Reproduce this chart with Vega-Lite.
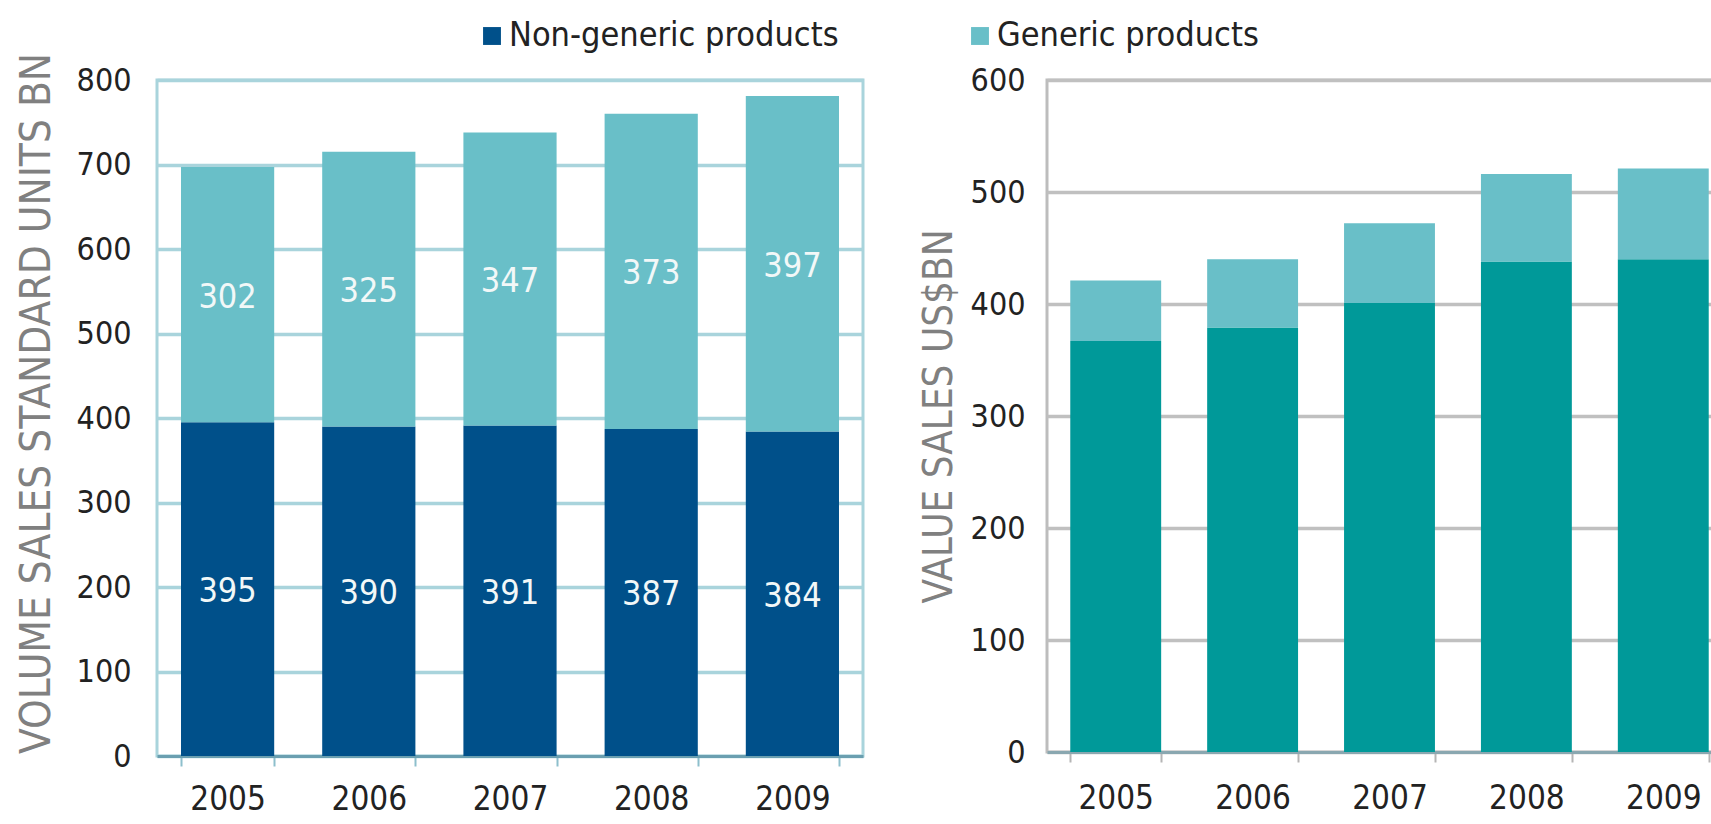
{
  "$schema": "https://vega.github.io/schema/vega-lite/v6.json",
  "background": "white",
  "padding": {"left": 13, "top": 19, "right": -21, "bottom": 0},
  "spacing": 52,
  "datasets": {
    "volume": [
      {"year": "2005", "product": "Non-generic products", "layer": 1, "units": 395},
      {"year": "2006", "product": "Non-generic products", "layer": 1, "units": 390},
      {"year": "2007", "product": "Non-generic products", "layer": 1, "units": 391},
      {"year": "2008", "product": "Non-generic products", "layer": 1, "units": 387},
      {"year": "2009", "product": "Non-generic products", "layer": 1, "units": 384},
      {"year": "2005", "product": "Generic products", "layer": 2, "units": 302},
      {"year": "2006", "product": "Generic products", "layer": 2, "units": 325},
      {"year": "2007", "product": "Generic products", "layer": 2, "units": 347},
      {"year": "2008", "product": "Generic products", "layer": 2, "units": 373},
      {"year": "2009", "product": "Generic products", "layer": 2, "units": 397}
    ],
    "value": [
      {"year": "2005", "product": "Non-generic products", "layer": 1, "usd": 367},
      {"year": "2006", "product": "Non-generic products", "layer": 1, "usd": 379},
      {"year": "2007", "product": "Non-generic products", "layer": 1, "usd": 401},
      {"year": "2008", "product": "Non-generic products", "layer": 1, "usd": 438},
      {"year": "2009", "product": "Non-generic products", "layer": 1, "usd": 440},
      {"year": "2005", "product": "Generic products", "layer": 2, "usd": 54},
      {"year": "2006", "product": "Generic products", "layer": 2, "usd": 61},
      {"year": "2007", "product": "Generic products", "layer": 2, "usd": 71},
      {"year": "2008", "product": "Generic products", "layer": 2, "usd": 78},
      {"year": "2009", "product": "Generic products", "layer": 2, "usd": 81}
    ]
  },
  "config": {
    "font": "DejaVu Sans Condensed, DejaVu Sans",
    "axis": {
      "labelFont": "DejaVu Sans Condensed, DejaVu Sans",
      "titleFont": "DejaVu Sans Condensed, DejaVu Sans",
      "labelColor": "#222222",
      "titleColor": "#808080",
      "titleFontWeight": "normal",
      "labelFontSize": 32,
      "titleFontSize": 40
    },
    "legend": {
      "labelFont": "DejaVu Sans Condensed, DejaVu Sans",
      "labelColor": "#222222"
    }
  },
  "hconcat": [
    {
      "width": 706,
      "height": 676,
      "view": {"stroke": "#a9d4dc", "strokeWidth": 3},
      "data": {"name": "volume"},
      "encoding": {
        "x": {
          "field": "year",
          "type": "nominal",
          "scale": {"paddingInner": 0.34, "paddingOuter": 0.17},
          "axis": {
            "title": null,
            "labelAngle": 0,
            "labelFontSize": 33,
            "domainColor": "#6a9fb0",
            "domainWidth": 3,
            "tickColor": "#8dbfcc",
            "tickWidth": 2,
            "tickSize": 10,
            "tickBand": "extent",
            "labelPadding": 17
          }
        },
        "order": {"field": "layer", "type": "quantitative"}
      },
      "layer": [
        {
          "mark": {"type": "bar"},
          "encoding": {
            "y": {
              "field": "units",
              "type": "quantitative",
              "stack": "zero",
              "scale": {"domain": [0, 800], "nice": false},
              "axis": {
                "title": "VOLUME SALES STANDARD UNITS BN",
                "titleFontSize": 42,
                "values": [0, 100, 200, 300, 400, 500, 600, 700, 800],
                "grid": true,
                "gridColor": "#a9d4dc",
                "gridWidth": 3.5,
                "domain": false,
                "ticks": false,
                "tickSize": 0,
                "labelPadding": 26,
                "titleY": 323,
                "titlePadding": 18
              }
            },
            "color": {
              "field": "product",
              "type": "nominal",
              "scale": {
                "domain": ["Non-generic products", "Generic products"],
                "range": ["#00508a", "#69bfc8"]
              },
              "legend": {
                "title": null,
                "orient": "none",
                "direction": "horizontal",
                "legendX": 318,
                "legendY": -61,
                "symbolType": "square",
                "symbolSize": 320,
                "symbolStrokeWidth": 0,
                "labelFontSize": 34,
                "labelOffset": 0,
                "labelLimit": 600,
                "columnPadding": 124
              }
            }
          }
        },
        {
          "mark": {"type": "text", "fontSize": 34, "dy": 3, "color": "#f2f8f8", "font": "DejaVu Sans Condensed, DejaVu Sans"},
          "encoding": {
            "y": {"field": "units", "type": "quantitative", "stack": "zero", "bandPosition": 0.5},
            "detail": {"field": "product"},
            "text": {"field": "units", "type": "quantitative"}
          }
        }
      ]
    },
    {
      "width": 685,
      "height": 672,
      "view": {"stroke": "#bdbdbd", "strokeWidth": 3},
      "data": {"name": "value"},
      "mark": {"type": "bar"},
      "encoding": {
        "x": {
          "field": "year",
          "type": "nominal",
          "scale": {"paddingInner": 0.336, "paddingOuter": 0.17},
          "axis": {
            "title": null,
            "labelAngle": 0,
            "labelFontSize": 33,
            "domainColor": "#8aa7b0",
            "domainWidth": 3,
            "tickColor": "#b5b5b5",
            "tickWidth": 2,
            "tickSize": 10,
            "tickBand": "extent",
            "labelPadding": 20
          }
        },
        "y": {
          "field": "usd",
          "type": "quantitative",
          "stack": "zero",
          "scale": {"domain": [0, 600], "nice": false},
          "axis": {
            "title": "VALUE SALES US$BN",
            "values": [0, 100, 200, 300, 400, 500, 600],
            "grid": true,
            "gridColor": "#c0c0c0",
            "gridWidth": 3.5,
            "domain": false,
            "ticks": false,
            "tickSize": 0,
            "labelPadding": 22,
            "titlePadding": 11
          }
        },
        "detail": {"field": "product"},
        "order": {"field": "layer", "type": "quantitative"},
        "color": {
          "condition": {"test": "datum.product === 'Non-generic products'", "value": "#009999"},
          "value": "#69bfc8"
        }
      }
    }
  ]
}
